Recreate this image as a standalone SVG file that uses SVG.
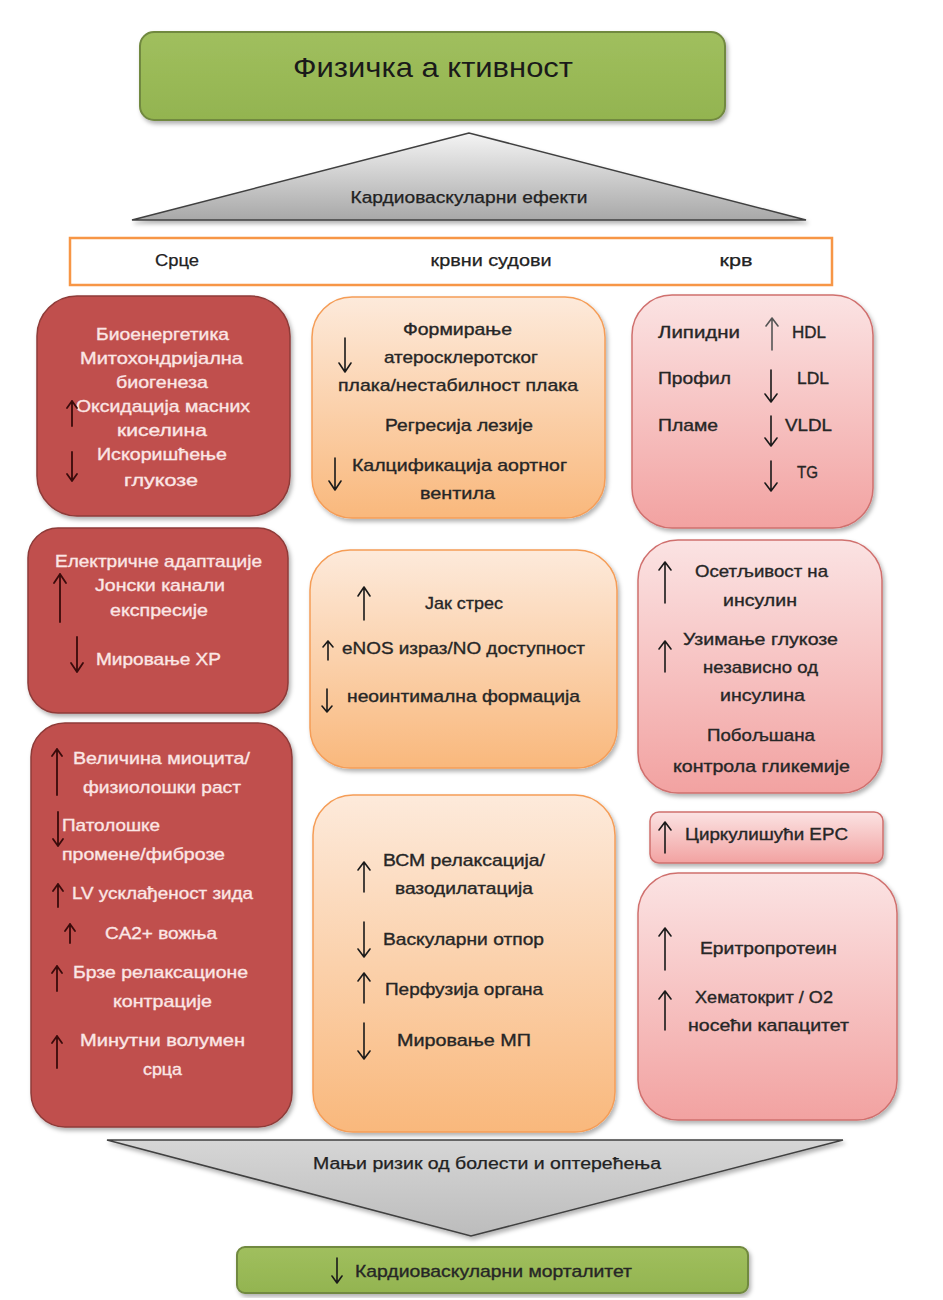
<svg xmlns="http://www.w3.org/2000/svg" width="943" height="1300" viewBox="0 0 943 1300">
<defs>
<filter id="sh" x="-10%" y="-10%" width="120%" height="120%"><feDropShadow dx="2" dy="3" stdDeviation="2" flood-color="#000" flood-opacity="0.3"/></filter>
<linearGradient id="gOr" x1="0" y1="0" x2="0" y2="1"><stop offset="0" stop-color="#fdeadb"/><stop offset="1" stop-color="#f9b87c"/></linearGradient>
<linearGradient id="gPk" x1="0" y1="0" x2="0" y2="1"><stop offset="0" stop-color="#fbe3e3"/><stop offset="1" stop-color="#f2a2a1"/></linearGradient>
<linearGradient id="gTri" x1="0" y1="0" x2="0" y2="1"><stop offset="0" stop-color="#f4f4f4"/><stop offset="1" stop-color="#a8a8a8"/></linearGradient>
<linearGradient id="gTri2" x1="0" y1="0" x2="0" y2="1"><stop offset="0" stop-color="#d6d6d6"/><stop offset="1" stop-color="#bcbcbc"/></linearGradient>
<linearGradient id="gGr" x1="0" y1="0" x2="0" y2="1"><stop offset="0" stop-color="#a0bf5e"/><stop offset="1" stop-color="#93b450"/></linearGradient>
</defs>
<style>
text{font-family:"Liberation Sans","DejaVu Sans",sans-serif;font-size:17px}
.c{text-anchor:middle}
.w{fill:#fbe6e5;stroke:#fbe6e5;stroke-width:0.35}
.d{fill:#262626;stroke:#262626;stroke-width:0.35}
.red{fill:#c0504d;stroke:#8e3b39;stroke-width:1.5;filter:url(#sh)}
.or{fill:url(#gOr);stroke:#f59d57;stroke-width:1.5;filter:url(#sh)}
.pk{fill:url(#gPk);stroke:#d0706e;stroke-width:1.5;filter:url(#sh)}
.gr{fill:url(#gGr);stroke:#71893f;stroke-width:2;filter:url(#sh)}
.ar{fill:none;stroke:#1a1a1a;stroke-width:1.6;stroke-linecap:round;stroke-linejoin:round}
.arr{fill:none;stroke:#3a0b0b;stroke-width:1.8;stroke-linecap:round;stroke-linejoin:round}
.hd{font-size:16px;fill:#222;stroke:#222;stroke-width:0.25}
</style>

<g id="title">
<rect class="gr" x="140" y="32" width="585" height="88" rx="14"/>
<text class="c" x="433" y="77" style="font-size:28px;fill:#1a1a1a" textLength="280" lengthAdjust="spacingAndGlyphs">Физичка а ктивност</text>
</g>

<g id="triangle-top">
<polygon points="469,133 132,220 806,220" fill="url(#gTri)" stroke="#404040" stroke-width="1.5" filter="url(#sh)"/>
<text class="c hd" x="469" y="203" textLength="237" lengthAdjust="spacingAndGlyphs">Кардиоваскуларни ефекти</text>
</g>

<g id="header">
<rect x="70" y="238" width="762" height="47" fill="#fff" stroke="#f79646" stroke-width="2.5"/>
<text class="c hd" x="177" y="266" textLength="44" lengthAdjust="spacingAndGlyphs">Срце</text>
<text class="c hd" x="491" y="266" textLength="121" lengthAdjust="spacingAndGlyphs">крвни судови</text>
<text class="c hd" x="736" y="266" textLength="33" lengthAdjust="spacingAndGlyphs">крв</text>
</g>

<g id="heart-1">
<rect class="red" x="37" y="296" width="253" height="220" rx="40"/>
<text class="c w" x="162.5" y="340" textLength="133" lengthAdjust="spacingAndGlyphs">Биоенергетика</text>
<text class="c w" x="161.5" y="364" textLength="163" lengthAdjust="spacingAndGlyphs">Митохондријална</text>
<text class="c w" x="162" y="388" textLength="92" lengthAdjust="spacingAndGlyphs">биогенеза</text>
<text class="c w" x="163" y="412" textLength="174" lengthAdjust="spacingAndGlyphs">Оксидација масних</text>
<text class="c w" x="162" y="436" textLength="90" lengthAdjust="spacingAndGlyphs">киселина</text>
<text class="c w" x="162" y="460" textLength="130" lengthAdjust="spacingAndGlyphs">Искоришћење</text>
<text class="c w" x="161" y="486" textLength="74" lengthAdjust="spacingAndGlyphs">глукозе</text>
<path class="arr" d="M72,426 V401 M67,408 L72,401 L77,408"/>
<path class="arr" d="M72,452 V481 M67,474 L72,481 L77,474"/>
</g>

<g id="heart-2">
<rect class="red" x="28" y="528" width="260" height="185" rx="30"/>
<text class="c w" x="158.5" y="567" textLength="207" lengthAdjust="spacingAndGlyphs">Електричне адаптације</text>
<text class="c w" x="160" y="591" textLength="130" lengthAdjust="spacingAndGlyphs">Јонски канали</text>
<text class="c w" x="159" y="616" textLength="98" lengthAdjust="spacingAndGlyphs">експресије</text>
<text class="c w" x="158.5" y="665" textLength="125" lengthAdjust="spacingAndGlyphs">Мировање ХР</text>
<path class="arr" d="M60,622 V574 M54,583 L60,574 L66,583"/>
<path class="arr" d="M77,637 V672 M71,663 L77,672 L83,663"/>
</g>

<g id="heart-3">
<rect class="red" x="31" y="723" width="261" height="404" rx="34"/>
<text class="c w" x="161.5" y="764" textLength="177" lengthAdjust="spacingAndGlyphs">Величина миоцита/</text>
<text class="c w" x="162" y="793" textLength="158" lengthAdjust="spacingAndGlyphs">физиолошки раст</text>
<text class="w" x="62" y="831" textLength="98" lengthAdjust="spacingAndGlyphs">Патолошке</text>
<text class="w" x="62" y="860" textLength="163" lengthAdjust="spacingAndGlyphs">промене/фиброзе</text>
<text class="c w" x="162.5" y="899" textLength="181" lengthAdjust="spacingAndGlyphs">LV усклађеност зида</text>
<text class="c w" x="161" y="939" textLength="112" lengthAdjust="spacingAndGlyphs">CA2+ вожња</text>
<text class="c w" x="160.5" y="978" textLength="175" lengthAdjust="spacingAndGlyphs">Брзе релаксационе</text>
<text class="c w" x="162.5" y="1007" textLength="99" lengthAdjust="spacingAndGlyphs">контрације</text>
<text class="c w" x="162.5" y="1046" textLength="165" lengthAdjust="spacingAndGlyphs">Минутни волумен</text>
<text class="c w" x="162.5" y="1075" textLength="39" lengthAdjust="spacingAndGlyphs">срца</text>
<path class="arr" d="M57,795 V749 M52,756 L57,749 L62,756"/>
<path class="arr" d="M58,812 V846 M53,839 L58,846 L63,839"/>
<path class="arr" d="M58,907 V884 M53,891 L58,884 L63,891"/>
<path class="arr" d="M70,943 V924 M65,931 L70,924 L75,931"/>
<path class="arr" d="M57,991 V966 M52,973 L57,966 L62,973"/>
<path class="arr" d="M57,1068 V1036 M52,1043 L57,1036 L62,1043"/>
</g>

<g id="vessels-1">
<rect class="or" x="312" y="297" width="293" height="221" rx="40"/>
<text class="c d" x="457.5" y="335" textLength="109" lengthAdjust="spacingAndGlyphs">Формирање</text>
<text class="c d" x="461" y="363" textLength="154" lengthAdjust="spacingAndGlyphs">атеросклеротског</text>
<text class="c d" x="458" y="391" textLength="240" lengthAdjust="spacingAndGlyphs">плака/нестабилност плака</text>
<text class="c d" x="459" y="431" textLength="148" lengthAdjust="spacingAndGlyphs">Регресија лезије</text>
<text class="c d" x="459.5" y="471" textLength="215" lengthAdjust="spacingAndGlyphs">Калцификација аортног</text>
<text class="c d" x="457.5" y="499" textLength="75" lengthAdjust="spacingAndGlyphs">вентила</text>
<path class="ar" d="M345,338 V372 M339,363 L345,372 L351,363"/>
<path class="ar" d="M335,458 V490 M329,481 L335,490 L341,481"/>
</g>

<g id="vessels-2">
<rect class="or" x="310" y="550" width="307" height="218" rx="40"/>
<text class="c d" x="464" y="609" textLength="78" lengthAdjust="spacingAndGlyphs">Јак стрес</text>
<text class="c d" x="463.5" y="654" textLength="243" lengthAdjust="spacingAndGlyphs">eNOS израз/NO доступност</text>
<text class="c d" x="463.5" y="702" textLength="233" lengthAdjust="spacingAndGlyphs">неоинтимална формација</text>
<path class="ar" d="M364,620 V587 M358,596 L364,587 L370,596"/>
<path class="ar" d="M328,660 V641 M323,647 L328,641 L333,647"/>
<path class="ar" d="M327,689 V712 M322,706 L327,712 L332,706"/>
</g>

<g id="vessels-3">
<rect class="or" x="313" y="795" width="302" height="337" rx="40"/>
<text class="c d" x="464" y="866" textLength="162" lengthAdjust="spacingAndGlyphs">ВСМ релаксација/</text>
<text class="c d" x="464" y="894" textLength="138" lengthAdjust="spacingAndGlyphs">вазодилатација</text>
<text class="c d" x="463.5" y="945" textLength="161" lengthAdjust="spacingAndGlyphs">Васкуларни отпор</text>
<text class="c d" x="464" y="995" textLength="158" lengthAdjust="spacingAndGlyphs">Перфузија органа</text>
<text class="c d" x="464" y="1046" textLength="134" lengthAdjust="spacingAndGlyphs">Мировање МП</text>
<path class="ar" d="M364,892 V862 M358,870 L364,862 L370,870"/>
<path class="ar" d="M364,922 V957 M358,949 L364,957 L370,949"/>
<path class="ar" d="M364,1003 V973 M358,981 L364,973 L370,981"/>
<path class="ar" d="M364,1023 V1059 M358,1051 L364,1059 L370,1051"/>
</g>

<g id="blood-1">
<rect class="pk" x="632" y="295" width="241" height="233" rx="40"/>
<text class="d" x="658" y="338" textLength="82" lengthAdjust="spacingAndGlyphs">Липидни</text>
<text class="d" x="658" y="384" textLength="73" lengthAdjust="spacingAndGlyphs">Профил</text>
<text class="d" x="658" y="431" textLength="60" lengthAdjust="spacingAndGlyphs">Пламе</text>
<text class="d" x="792" y="338" textLength="34" lengthAdjust="spacingAndGlyphs">HDL</text>
<text class="d" x="797" y="384" textLength="32" lengthAdjust="spacingAndGlyphs">LDL</text>
<text class="d" x="785" y="431" textLength="47" lengthAdjust="spacingAndGlyphs">VLDL</text>
<text class="d" x="797" y="478" textLength="21" lengthAdjust="spacingAndGlyphs">TG</text>
<path class="ar" d="M772,350 V318 M766,326 L772,318 L778,326" style="stroke:#555"/>
<path class="ar" d="M771,370 V402 M765,394 L771,402 L777,394"/>
<path class="ar" d="M771,416 V446 M765,438 L771,446 L777,438"/>
<path class="ar" d="M771,461 V491 M765,483 L771,491 L777,483"/>
</g>

<g id="blood-2">
<rect class="pk" x="638" y="540" width="244" height="253" rx="40"/>
<text class="c d" x="761.5" y="577" textLength="133" lengthAdjust="spacingAndGlyphs">Осетљивост на</text>
<text class="c d" x="760" y="606" textLength="74" lengthAdjust="spacingAndGlyphs">инсулин</text>
<text class="c d" x="760.5" y="645" textLength="155" lengthAdjust="spacingAndGlyphs">Узимање глукозе</text>
<text class="c d" x="760.5" y="673" textLength="115" lengthAdjust="spacingAndGlyphs">независно од</text>
<text class="c d" x="762.5" y="701" textLength="85" lengthAdjust="spacingAndGlyphs">инсулина</text>
<text class="c d" x="761" y="741" textLength="108" lengthAdjust="spacingAndGlyphs">Побољшана</text>
<text class="c d" x="761.5" y="772" textLength="177" lengthAdjust="spacingAndGlyphs">контрола гликемије</text>
<path class="ar" d="M665,603 V562 M659,570 L665,562 L671,570"/>
<path class="ar" d="M665,672 V641 M659,649 L665,641 L671,649"/>
</g>

<g id="blood-3">
<rect class="pk" x="650" y="812" width="233" height="51" rx="9"/>
<text class="d" x="685" y="840" textLength="163" lengthAdjust="spacingAndGlyphs">Циркулишући EPC</text>
<path class="ar" d="M665,853 V822 M659,830 L665,822 L671,830"/>
</g>

<g id="blood-4">
<rect class="pk" x="638" y="873" width="259" height="247" rx="40"/>
<text class="c d" x="768.5" y="954" textLength="137" lengthAdjust="spacingAndGlyphs">Еритропротеин</text>
<text class="c d" x="764" y="1003" textLength="138" lengthAdjust="spacingAndGlyphs">Хематокрит / O2</text>
<text class="c d" x="768.5" y="1031" textLength="161" lengthAdjust="spacingAndGlyphs">носећи капацитет</text>
<path class="ar" d="M665,970 V928 M659,936 L665,928 L671,936"/>
<path class="ar" d="M665,1030 V991 M659,999 L665,991 L671,999"/>
</g>

<g id="triangle-bottom">
<polygon points="107,1140 843,1140 471,1236" fill="url(#gTri2)" stroke="#404040" stroke-width="1.5" filter="url(#sh)"/>
<text class="c hd" x="487" y="1169" textLength="348" lengthAdjust="spacingAndGlyphs">Мањи ризик од болести и оптерећења</text>
</g>

<g id="mortality">
<rect class="gr" x="237" y="1247" width="511" height="46" rx="8"/>
<text class="d" x="355" y="1277" textLength="277" lengthAdjust="spacingAndGlyphs">Кардиоваскуларни морталитет</text>
<path class="ar" d="M337,1258 V1283 M332,1276 L337,1283 L342,1276"/>
</g>

<g id="connectors"></g>
</svg>
